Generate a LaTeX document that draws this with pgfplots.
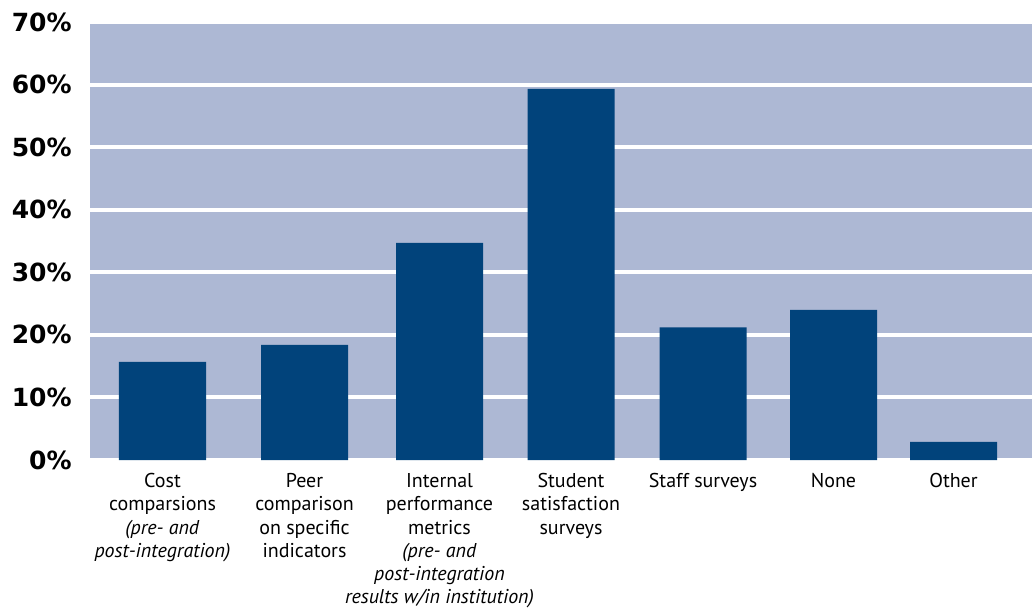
\documentclass[border=0pt]{standalone}
\usepackage{fontspec}
\setmainfont{PT Sans}
\newfontfamily\tickfont{DejaVu Sans}
\usepackage{pgfplots}
\pgfplotsset{compat=1.18}
\definecolor{bgc}{RGB}{173,184,212}
\definecolor{barc}{RGB}{1,67,123}
\begin{document}
\begin{tikzpicture}
\begin{axis}[
  at={(0pt,0pt)}, anchor=south west,
  scale only axis, width=471pt, height=219pt,
  xmin=90, xmax=1032, ymin=0, ymax=70,
  axis background/.style={fill=bgc},
  axis line style={draw=none},
  tick style={draw=none},
  ytick={0,10,20,30,40,50,60,70},
  yticklabels={0\%,10\%,20\%,30\%,40\%,50\%,60\%,70\%},
  yticklabel style={font=\tickfont\bfseries\fontsize{12.5}{14}\selectfont, inner sep=0pt, xshift=-9pt},
  ymajorgrids, grid style={white, line width=2pt},
  xtick={162.5,304.5,439.5,571,703,833.5,953.5},
  xticklabels={
    {Cost\\comparsions\\\textit{(pre- and}\\\textit{post-integration)}},
    {Peer\\comparison\\on specific\\indicators},
    {Internal\\performance\\metrics\\\textit{(pre- and}\\\textit{post-integration}\\\textit{results w/in institution)}},
    {Student\\satisfaction\\surveys},
    {Staff surveys},
    {None},
    {Other}},
  xticklabel style={font=\fontsize{10}{11.65}\selectfont, align=center, anchor=north, inner sep=0pt, yshift=-6.5pt},
]
\addplot[ybar, bar width=87, fill=barc, draw=none] coordinates {
  (162.5,15.7) (304.5,18.4) (439.5,34.7) (571,59.3) (703,21.2) (833.5,24.0) (953.5,2.9)
};
\end{axis}
\pgfresetboundingbox
\path[use as bounding box] (-45pt,-74.5pt) rectangle (471pt,230pt);
\end{tikzpicture}
\end{document}
